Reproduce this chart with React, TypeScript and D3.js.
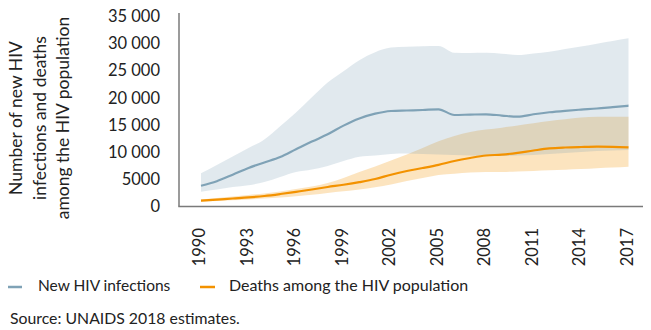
import React from "react";
import * as d3 from "d3";

const years = d3.range(1990, 2018);
const infections = [3920, 4750, 5950, 7200, 8200, 9200, 10630, 12050, 13390, 14990, 16300, 17190, 17680, 17780, 17870, 18000, 16950, 17020, 17080, 16850, 16630, 17080, 17450, 17720, 17940, 18140, 18400, 18660];
const infectionsHigh = [6210, 7740, 9280, 10870, 12450, 14880, 17410, 20210, 22930, 25010, 27040, 28510, 29360, 29510, 29620, 29660, 28420, 28370, 28400, 28240, 28000, 28290, 28590, 29100, 29560, 30080, 30580, 31080];
const infectionsLow = [2820, 3220, 3680, 4000, 4600, 5530, 6450, 6900, 7550, 8470, 9270, 9490, 9760, 9850, 9760, 9670, 9580, 9490, 9390, 9390, 9480, 9580, 9760, 9950, 10130, 10310, 10400, 10500];
const deaths = [1160, 1360, 1570, 1770, 2030, 2390, 2800, 3220, 3680, 4100, 4580, 5150, 5950, 6630, 7180, 7770, 8470, 9030, 9490, 9650, 9980, 10410, 10790, 10960, 11050, 11110, 11090, 11000];
const deathsHigh = [1380, 1660, 1930, 2210, 2490, 2860, 3320, 3780, 4420, 5340, 6450, 7460, 8570, 9670, 10870, 12100, 13080, 13820, 14270, 14620, 15010, 15420, 15840, 16170, 16470, 16630, 16630, 16630];
const deathsLow = [980, 1110, 1230, 1380, 1570, 1750, 1990, 2250, 2580, 2890, 3220, 3630, 4140, 4790, 5340, 5890, 6120, 6340, 6450, 6450, 6540, 6630, 6760, 6870, 7000, 7150, 7280, 7420];
const yTicks = [0, 5000, 10000, 15000, 20000, 25000, 30000, 35000];
const xTicks = [1990, 1993, 1996, 1999, 2002, 2005, 2008, 2011, 2014, 2017];
const legendLabels = ["New HIV infections", "Deaths among the HIV population"];
const yTitle = ["Number of new HIV", "infections and deaths", "among the HIV population"];
const source = "Source: UNAIDS 2018 estimates.";

const BLUE = "#7fa2b6";
const ORANGE = "#f39200";
const FONT = "Lato, 'Open Sans', sans-serif";

export default function App() {
  const W = 651, H = 330;
  const x = d3.scaleLinear().domain([1990, 2017]).range([201, 628.5]);
  const y = d3.scaleLinear().domain([0, 35000]).range([207, 17]);
  const fmt = (v: number) => (v >= 10000 ? d3.format(",")(v).replace(",", " ") : String(v));
  const curve = d3.curveMonotoneX;

  const area = (lo: number[], hi: number[]) =>
    d3.area<number>().curve(curve).x((_, i) => x(years[i])).y0((_, i) => y(lo[i])).y1((_, i) => y(hi[i]))(years) || "";
  const line = (vals: number[]) =>
    d3.line<number>().curve(curve).x((_, i) => x(years[i])).y((_, i) => y(vals[i]))(years) || "";

  return (
    <svg width={W} height={H} style={{ position: "absolute", left: 0, top: 0, background: "#fff" }} fontFamily={FONT}>
      <path d={area(deathsLow, deathsHigh)} fill={ORANGE} fillOpacity={0.25} />
      <path d={area(infectionsLow, infectionsHigh)} fill={BLUE} fillOpacity={0.23} />
      <path d={line(infections)} fill="none" stroke={BLUE} strokeWidth={2.2} />
      <path d={line(deaths)} fill="none" stroke={ORANGE} strokeWidth={2.2} />

      <line x1={179} x2={179} y1={13} y2={206.5} stroke="#7a7a7a" strokeWidth={1.5} />
      <line x1={178.3} x2={643} y1={206.5} y2={206.5} stroke="#7a7a7a" strokeWidth={1.5} />

      {yTicks.map((t) => (
        <text key={t} x={160} y={y(t) + 1} textAnchor="end" dominantBaseline="middle" fontSize={16.5} fill="#222">
          {fmt(t)}
        </text>
      ))}
      {xTicks.map((t) => (
        <text key={t} transform={`translate(${x(t)},228) rotate(-90)`} textAnchor="end" dominantBaseline="middle" fontSize={16.5} fill="#222">
          {t}
        </text>
      ))}
      {yTitle.map((s, i) => (
        <text key={s} transform={`translate(${18 + i * 23.5},118) rotate(-90)`} textAnchor="middle" dominantBaseline="middle" fontSize={17.5} fill="#222">
          {s}
        </text>
      ))}

      <line x1={8} x2={22} y1={287} y2={287} stroke={BLUE} strokeWidth={2.5} />
      <text x={38} y={287} dominantBaseline="middle" fontSize={15.5} fill="#222">{legendLabels[0]}</text>
      <line x1={200} x2={215} y1={287} y2={287} stroke={ORANGE} strokeWidth={2.5} />
      <text x={229} y={287} dominantBaseline="middle" fontSize={16} fill="#222">{legendLabels[1]}</text>

      <text x={10} y={320} dominantBaseline="middle" fontSize={15.8} fill="#222">{source}</text>
    </svg>
  );
}
